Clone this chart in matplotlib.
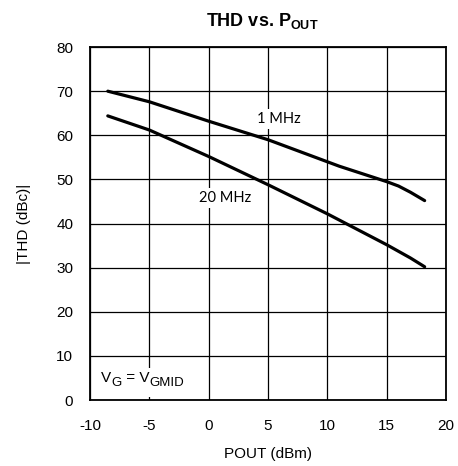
import matplotlib
matplotlib.use("Agg")
import matplotlib.pyplot as plt
from matplotlib.patches import Rectangle

plt.rcParams['font.family'] = ['Liberation Sans', 'DejaVu Sans']
plt.rcParams['axes.unicode_minus'] = False

pout_1mhz = [-8.5, -5, 0, 5, 10, 11, 15, 16, 17, 18.2]
thd_1mhz = [70.0, 67.6, 63.2, 59.0, 54.0, 53.0, 49.5, 48.5, 47.1, 45.2]
pout_20mhz = [-8.5, -5, 0, 5, 10, 15, 17, 18.2]
thd_20mhz = [64.4, 61.2, 55.2, 48.8, 42.2, 35.2, 32.2, 30.2]

xticks = [-10, -5, 0, 5, 10, 15, 20]
yticks = [0, 10, 20, 30, 40, 50, 60, 70, 80]

fig = plt.figure(figsize=(4.58, 4.66), dpi=100)
ax = fig.add_axes([0.1965, 0.1416, 0.7773, 0.7574])
ax.plot(pout_1mhz, thd_1mhz, color='black', lw=2.3, solid_capstyle='round', zorder=4)
ax.plot(pout_20mhz, thd_20mhz, color='black', lw=2.3, solid_capstyle='round', zorder=4)
ax.set_xlim(-10, 20)
ax.set_ylim(0, 80)
ax.set_xticks(xticks)
ax.set_yticks(yticks)
ax.tick_params(length=0, labelsize=11)
ax.tick_params(axis='x', pad=14)
ax.tick_params(axis='y', pad=12)
ax.grid(True, color='black', lw=0.9)
for s in ax.spines.values():
    s.set_linewidth(1.3)
    s.set_zorder(5)
ax.set_axisbelow(True)

box = dict(facecolor='white', edgecolor='none', pad=2)
ax.text(5.9, 63.7, '1 MHz', ha='center', va='center', fontsize=10.5,
        family=['Lato', 'DejaVu Sans'], bbox=box, zorder=3)
ax.text(1.4, 45.8, '20 MHz', ha='center', va='center', fontsize=10.5,
        family=['Lato', 'DejaVu Sans'], bbox=box, zorder=3)

# V_G = V_GMID label with white background
ax.add_patch(Rectangle((-9.6, 0.6), 9.3, 6.7, facecolor='white', edgecolor='none', zorder=2))
t1 = ax.text(-9.05, 3.5, 'V', fontsize=11, va='bottom', ha='left', zorder=3)
t2 = ax.annotate('G', xy=(1, 0), xycoords=t1, xytext=(0, -3.2), textcoords='offset points',
                 fontsize=9.5, va='bottom', ha='left', zorder=3)
t3 = ax.annotate(' = V', xy=(1, 0), xycoords=t2, xytext=(0, 3.2), textcoords='offset points',
                 fontsize=11, va='bottom', ha='left', zorder=3)
t4 = ax.annotate('GMID', xy=(1, 0), xycoords=t3, xytext=(0, -3.2), textcoords='offset points',
                 fontsize=9.5, va='bottom', ha='left', zorder=3)

ax.set_xlabel('POUT (dBm)', fontsize=11, labelpad=10)
ax.set_ylabel('|THD (dBc)|', fontsize=11, labelpad=18)
ax.set_title(r'THD vs. P$_\mathregular{OUT}$', fontsize=13, fontweight='bold', pad=15, x=0.485)

fig.savefig('out.png', dpi=100)
